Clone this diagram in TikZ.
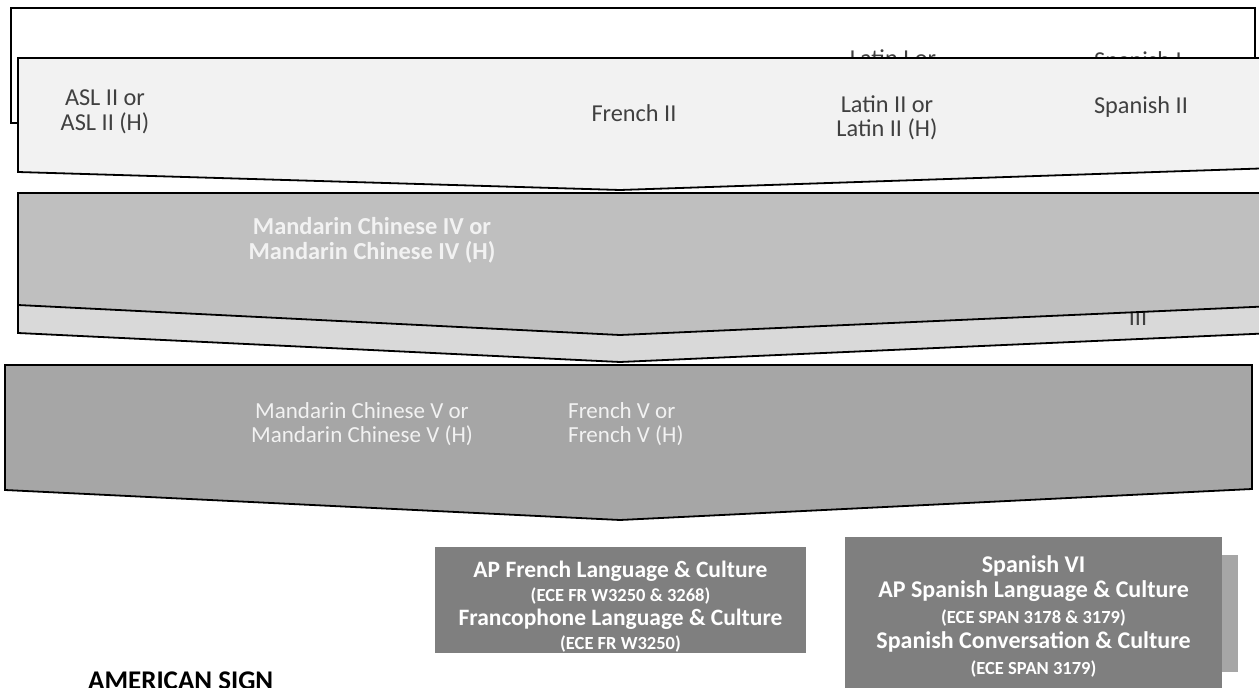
\documentclass[tikz,border=0pt]{standalone}
\usepackage{fontspec}
\setmainfont{Carlito}
\usepackage{xcolor}
\usetikzlibrary{positioning}
\definecolor{paleband}{HTML}{F2F2F2}
\definecolor{midband}{HTML}{BFBFBF}
\definecolor{lightband}{HTML}{D9D9D9}
\definecolor{darkband}{HTML}{A6A6A6}
\definecolor{apbox}{HTML}{7F7F7F}
\definecolor{inktext}{HTML}{404040}
\newcommand{\ecesize}{\fontsize{18.5}{20}\selectfont}

\begin{document}
\begin{tikzpicture}[
  x=1pt, y=-1pt,
  every node/.style={rectangle, sharp corners, align=center, inner sep=0pt},
  chevron/.style={draw=black, line width=1.8pt, line join=miter},
  darklbl/.style={text=inktext, font=\fontsize{24.3}{24.5}\selectfont},
  whitelbl/.style={text=paleband, font=\fontsize{23}{24}\selectfont},
  aplbl/.style={text=white, font=\bfseries\fontsize{23.5}{24}\selectfont}
]
\useasboundingbox (0,0) rectangle (1259,688);
\clip (0,0) rectangle (1259,688);

% Level I: white band, mostly hidden
\draw[chevron, fill=white] (11,8) rectangle (1255,123);
\node[darklbl, anchor=north] (latinone) at (893,49) {Latin I or};
\node[darklbl, anchor=north] (spanishone) at (1138,51) {Spanish I};

% Level II chevron
\draw[chevron, fill=paleband]
  (18,58) -- (1275,58) -- (1275,168) -- (620,190) -- (18,172) -- cycle;
\node[darklbl] (asltwo) at (105,112) {ASL II or\\ASL II (H)};
\node[darklbl] (frenchtwo) at (634,113) {French II};
\node[darklbl] (latintwo) at (887,118) {Latin II or\\Latin II (H)};
\node[darklbl] (spanishtwo) at (1141,107) {Spanish II};

% Level III chevron, only the tail shows
\draw[chevron, fill=lightband]
  (18,250) -- (1275,250) -- (1275,333) -- (620,362) -- (18,333) -- cycle;
\node[darklbl, anchor=base] (spanishthree) at (1138,325) {III};

% Level IV chevron
\draw[chevron, fill=midband]
  (18,193) -- (1275,193) -- (1275,306) -- (620,335) -- (18,305) -- cycle;
\node[whitelbl, font=\bfseries\fontsize{24.4}{25}\selectfont]
  (mandarinfour) at (372,240) {Mandarin Chinese IV or\\Mandarin Chinese IV (H)};

% Level V chevron
\draw[chevron, fill=darkband]
  (5,365) -- (1252,365) -- (1252,489) -- (620,520) -- (5,490) -- cycle;
\node[whitelbl] (mandarinfive) at (362,424) {Mandarin Chinese V or\\Mandarin Chinese V (H)};
\node[whitelbl, align=left, anchor=west] (frenchfive) at (568,424) {French V or\\French V (H)};

% AP boxes
\node[fill=apbox, minimum width=371pt, minimum height=106pt] (apfrench) at (620.5,600) {};
\node[aplbl] (apfrenchtext) at (620.5,607) {AP French Language \& Culture\\
  {\ecesize (ECE FR W3250 \& 3268)}\\
  Francophone Language \& Culture\\
  {\ecesize (ECE FR W3250)}};

\node[fill=darkband, minimum width=30pt, minimum height=117pt] (spanishtab) at (1223,613.5) {};

\node[fill=apbox, minimum width=377pt, minimum height=151pt] (apspanish) at (1033.5,612.5) {};
\node[aplbl, font=\bfseries\fontsize{24}{25.5}\selectfont]
  (apspanishtext) at (1033.5,616) {Spanish VI\\
  AP Spanish Language \& Culture\\
  {\ecesize (ECE SPAN 3178 \& 3179)}\\
  Spanish Conversation \& Culture\\
  {\ecesize (ECE SPAN 3179)}};

% Section title, cut by the page edge
\node[font=\bfseries\fontsize{27}{30}\selectfont, anchor=north west]
  (asltitle) at (88,672) {AMERICAN SIGN};

\end{tikzpicture}
\end{document}
